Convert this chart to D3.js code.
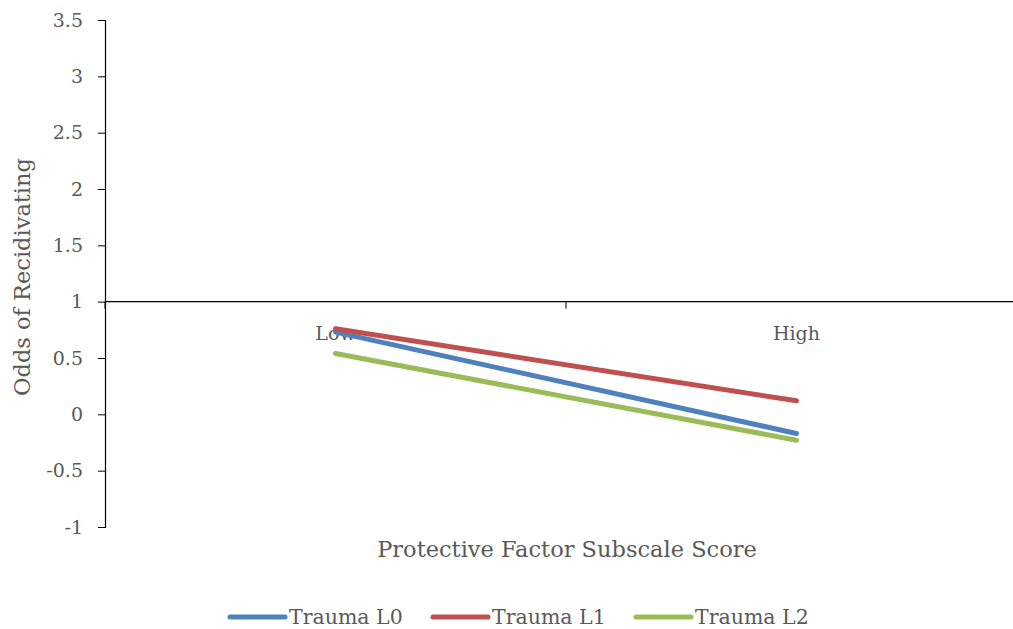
<!DOCTYPE html>
<html>
<head>
<meta charset="utf-8">
<script src="https://cdn.jsdelivr.net/npm/d3@7"></script>
<style>
  body { margin: 0; background: #fff; }
  svg { display: block; }
  text { font-family: "DejaVu Serif", "Liberation Serif", serif; fill: #595959; }
</style>
</head>
<body>
<svg id="chart" width="1013" height="629"></svg>
<script>
// Odds of recidivating by protective factor level, one line per trauma level
const categories = ["Low", "High"];
const seriesNames = ["Trauma L0", "Trauma L1", "Trauma L2"];
const traumaL0 = [0.73, -0.17];
const traumaL1 = [0.76, 0.12];
const traumaL2 = [0.54, -0.23];
const yTicks = [-1, -0.5, 0, 0.5, 1, 1.5, 2, 2.5, 3, 3.5];
const colors = ["#4F81BD", "#C0504D", "#9BBB59"];

const series = [traumaL0, traumaL1, traumaL2];
const svg = d3.select("#chart");
const fontFamily = "'DejaVu Serif', serif";

const y = d3.scaleLinear().domain([-1, 3.5]).range([527, 20]);
const x = d3.scaleBand().domain(categories).range([105, 1027]);
const xCenter = c => x(c) + x.bandwidth() / 2;

// Vertical value axis
const yAxis = svg.append("g").attr("transform", "translate(105,0)")
  .call(d3.axisLeft(y).tickValues(yTicks).tickSize(7).tickPadding(15)
    .tickFormat(d => String(d)));
yAxis.select(".domain").attr("stroke", "#000").attr("stroke-width", 1.2);
yAxis.selectAll(".tick line").attr("stroke", "#000");
yAxis.selectAll(".tick text").attr("font-size", 19).attr("fill", "#595959")
  .style("font-family", fontFamily);

// Category axis crossing at 1
const crossY = y(1);
svg.append("line").attr("x1", 105).attr("x2", 1013)
  .attr("y1", crossY).attr("y2", crossY)
  .attr("stroke", "#000").attr("stroke-width", 1.3);
const bounds = [x("Low"), x("High")];
svg.selectAll(".xtick").data(bounds).enter().append("line")
  .attr("x1", d => d).attr("x2", d => d)
  .attr("y1", crossY).attr("y2", crossY + 7)
  .attr("stroke", "#000").attr("stroke-width", 1);
svg.selectAll(".xlabel").data(categories).enter().append("text")
  .attr("x", d => xCenter(d)).attr("y", crossY + 38)
  .attr("text-anchor", "middle").attr("font-size", 19).text(d => d);

// Series lines
const line = d3.line().x((d, i) => xCenter(categories[i])).y(d => y(d));
svg.selectAll(".series").data(series).enter().append("path")
  .attr("d", d => line(d))
  .attr("fill", "none")
  .attr("stroke", (d, i) => colors[i])
  .attr("stroke-width", 5)
  .attr("stroke-linecap", "round");

// Axis titles
svg.append("text").attr("x", 567).attr("y", 557)
  .attr("text-anchor", "middle").attr("font-size", 22.5)
  .text("Protective Factor Subscale Score");
svg.append("text")
  .attr("transform", "translate(30,277) rotate(-90)")
  .attr("text-anchor", "middle").attr("font-size", 22.5)
  .text("Odds of Recidivating");

// Legend
const legendX = [230, 433, 636];
const legend = svg.selectAll(".legend").data(seriesNames).enter().append("g")
  .attr("transform", (d, i) => `translate(${legendX[i]},617)`);
legend.append("line").attr("x1", 0).attr("x2", 55).attr("y1", 0).attr("y2", 0)
  .attr("stroke", (d, i) => colors[i]).attr("stroke-width", 5)
  .attr("stroke-linecap", "round");
legend.append("text").attr("x", 59).attr("y", 7).attr("font-size", 20.5)
  .text(d => d);
</script>
</body>
</html>
